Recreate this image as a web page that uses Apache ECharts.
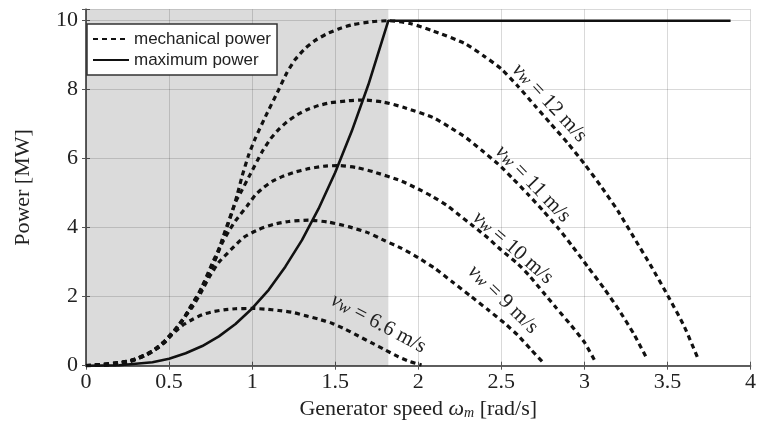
<!DOCTYPE html>
<html>
<head>
<meta charset="utf-8">
<script src="https://cdn.jsdelivr.net/npm/echarts@6/dist/echarts.min.js"></script>
<style>html,body{margin:0;background:#fff}#chart{width:759px;height:426px}</style>
</head>
<body>
<div id="chart"></div>
<script>
// generator speed [rad/s] vs power [MW]
const curve66 = [[0,0],[0.165,0.03],[0.26,0.11],[0.31,0.2],[0.37,0.34],[0.42,0.5],[0.47,0.67],[0.5,0.82],[0.54,1.0],[0.59,1.2],[0.64,1.34],[0.7,1.48],[0.76,1.56],[0.83,1.62],[0.9,1.65],[1.0,1.66],[1.08,1.64],[1.16,1.6],[1.25,1.54],[1.32,1.45],[1.4,1.35],[1.48,1.23],[1.56,1.06],[1.64,0.86],[1.72,0.66],[1.8,0.46],[1.88,0.26],[1.95,0.12],[2.02,0.02]];
const curve9 = [[0,0],[0.225,0.08],[0.36,0.3],[0.42,0.5],[0.51,0.88],[0.57,1.25],[0.64,1.7],[0.69,2.1],[0.74,2.55],[0.8,3.0],[0.87,3.35],[0.95,3.72],[1.04,3.95],[1.13,4.1],[1.22,4.18],[1.34,4.22],[1.46,4.16],[1.58,4.03],[1.7,3.85],[1.8,3.62],[1.9,3.4],[2.0,3.13],[2.1,2.82],[2.2,2.45],[2.32,2.0],[2.42,1.62],[2.52,1.23],[2.6,0.88],[2.68,0.46],[2.76,0.05]];
const curve10 = [[0,0],[0.25,0.12],[0.4,0.4],[0.47,0.69],[0.52,0.93],[0.57,1.22],[0.63,1.72],[0.71,2.33],[0.76,2.87],[0.82,3.56],[0.86,3.9],[0.9,4.2],[0.97,4.63],[1.02,4.95],[1.07,5.17],[1.12,5.34],[1.18,5.48],[1.25,5.6],[1.33,5.7],[1.43,5.78],[1.52,5.8],[1.63,5.74],[1.73,5.62],[1.9,5.35],[2.0,5.12],[2.08,4.92],[2.18,4.62],[2.25,4.35],[2.33,4.05],[2.42,3.7],[2.5,3.35],[2.6,2.95],[2.67,2.6],[2.75,2.14],[2.83,1.68],[2.92,1.17],[3.0,0.68],[3.07,0.08]];
const curve11 = [[0,0],[0.275,0.15],[0.44,0.54],[0.51,0.92],[0.57,1.23],[0.62,1.62],[0.7,2.29],[0.78,3.1],[0.83,3.8],[0.9,4.74],[0.94,5.1],[0.99,5.56],[1.06,6.2],[1.11,6.57],[1.16,6.85],[1.21,7.07],[1.27,7.27],[1.33,7.42],[1.4,7.54],[1.47,7.62],[1.58,7.68],[1.67,7.7],[1.79,7.64],[1.91,7.49],[2.09,7.19],[2.2,6.88],[2.29,6.6],[2.38,6.25],[2.48,5.85],[2.57,5.42],[2.66,4.97],[2.75,4.5],[2.84,4.0],[2.93,3.45],[3.02,2.87],[3.12,2.23],[3.21,1.6],[3.3,0.9],[3.38,0.17]];
const curve12 = [[0,0],[0.1,0.02],[0.2,0.08],[0.3,0.2],[0.4,0.42],[0.48,0.7],[0.56,1.2],[0.62,1.6],[0.68,2.1],[0.76,2.97],[0.81,3.5],[0.85,4.03],[0.88,4.46],[0.91,4.95],[0.94,5.5],[0.98,6.12],[1.02,6.6],[1.08,7.22],[1.16,8.0],[1.21,8.5],[1.26,8.88],[1.32,9.2],[1.38,9.43],[1.45,9.62],[1.52,9.76],[1.6,9.88],[1.72,9.97],[1.82,10],[1.95,9.92],[2.08,9.72],[2.28,9.34],[2.4,8.96],[2.5,8.6],[2.6,8.1],[2.7,7.55],[2.8,7.0],[2.9,6.45],[3.0,5.85],[3.1,5.2],[3.2,4.5],[3.3,3.7],[3.4,2.9],[3.5,2.05],[3.6,1.15],[3.68,0.25]];
const maxPower = [[0,0],[0.2,0.013],[0.4,0.1],[0.5,0.2],[0.6,0.36],[0.7,0.57],[0.8,0.85],[0.9,1.21],[1.0,1.66],[1.1,2.2],[1.2,2.87],[1.3,3.64],[1.4,4.55],[1.5,5.6],[1.6,6.8],[1.7,8.15],[1.82,10],[3.88,10]];
const windSpeeds = ['6.6', '9', '10', '11', '12'];
const shadeEnd = 1.82;

// where each v_w label sits, and its angle
const labelPos = [[1.76,1.22,-28],[2.51,1.92,-44],[2.57,3.42,-41],[2.69,5.27,-46],[2.79,7.62,-47]];

const serif = 'Liberation Serif';
const chart = echarts.init(document.getElementById('chart'));

function curveSeries(data, i){
    const p = labelPos[i];
    return {
        name: 'mechanical power', type: 'line', data: data, symbol: 'none', smooth: 0.2,
        itemStyle: { color: '#111' },
        lineStyle: { color: '#111', width: 3.2, type: [5, 4] },
        markPoint: {
            symbol: 'circle', symbolSize: 0, silent: true,
            data: [{ coord: [p[0], p[1]] }],
            label: {
                show: true, position: 'inside', rotate: p[2],
                formatter: '{v|v}{w|w}{t| = ' + windSpeeds[i] + ' m/s}',
                rich: {
                    v: { fontFamily: serif, fontStyle: 'italic', fontSize: 21, color: '#222' },
                    w: { fontFamily: serif, fontStyle: 'italic', fontSize: 17, color: '#222', verticalAlign: 'bottom' },
                    t: { fontFamily: serif, fontSize: 21, color: '#222' }
                }
            }
        }
    };
}

const frame = { show: true, lineStyle: { color: '#555', width: 1.5 } };
const ticks = { show: true, inside: true, length: 4, lineStyle: { color: '#555' } };
const grid = { show: true, lineStyle: { color: 'rgba(0,0,0,0.15)', width: 1 } };
const tickFont = { fontFamily: serif, fontSize: 22, color: '#222' };

const seriesList = [curve66, curve9, curve10, curve11, curve12].map(curveSeries);
seriesList.push({
    name: 'maximum power', type: 'line', data: maxPower, symbol: 'none', smooth: false,
    itemStyle: { color: '#111' },
    lineStyle: { color: '#111', width: 2.6 },
    markArea: { silent: true, itemStyle: { color: 'rgba(0,0,0,0.14)' }, data: [[{ xAxis: 0 }, { xAxis: shadeEnd }]] }
});

chart.setOption({
    animation: false,
    grid: { left: 86, right: 5, top: 9.3, bottom: 60.3 },
    legend: {
        data: ['mechanical power', 'maximum power'], orient: 'vertical', left: 87, top: 24,
        itemWidth: 36, itemHeight: 14, itemGap: 3, padding: [6, 6, 6, 5],
        backgroundColor: '#fff', borderColor: '#333', borderWidth: 1.5,
        itemStyle: { color: 'rgba(0,0,0,0)', borderWidth: 0 },
        textStyle: { fontFamily: 'Liberation Sans', fontSize: 17, color: '#222', lineHeight: 18 }
    },
    xAxis: [{
        type: 'value', min: 0, max: 4, interval: 0.5,
        name: 'Generator speed {i|ω}{s|m} [rad/s]', nameLocation: 'middle', nameGap: 25,
        nameTextStyle: {
            fontFamily: serif, fontSize: 22, color: '#222',
            rich: {
                i: { fontFamily: serif, fontStyle: 'italic', fontSize: 22, color: '#222' },
                s: { fontFamily: serif, fontStyle: 'italic', fontSize: 14, color: '#222', verticalAlign: 'bottom' }
            }
        },
        axisLine: frame, axisTick: ticks, splitLine: grid,
        axisLabel: Object.assign({ margin: 6 }, tickFont)
    }, {
        type: 'value', position: 'top', min: 0, max: 4, interval: 0.5,
        axisLine: frame, axisTick: ticks, axisLabel: { show: false }, splitLine: { show: false }
    }],
    yAxis: [{
        type: 'value', min: 0, max: 10.33, interval: 2,
        name: 'Power [MW]', nameLocation: 'middle', nameGap: 52, nameRotate: 90,
        nameTextStyle: { fontFamily: serif, fontSize: 22, color: '#222' },
        axisLine: frame, axisTick: ticks, splitLine: grid,
        axisLabel: Object.assign({ margin: 8, formatter: v => (Math.abs(v % 2) < 1e-9 ? v : '') }, tickFont)
    }, {
        type: 'value', position: 'right', min: 0, max: 10.33, interval: 2,
        axisLine: frame, axisTick: ticks, axisLabel: { show: false }, splitLine: { show: false }
    }],
    series: seriesList
});
</script>
</body>
</html>
